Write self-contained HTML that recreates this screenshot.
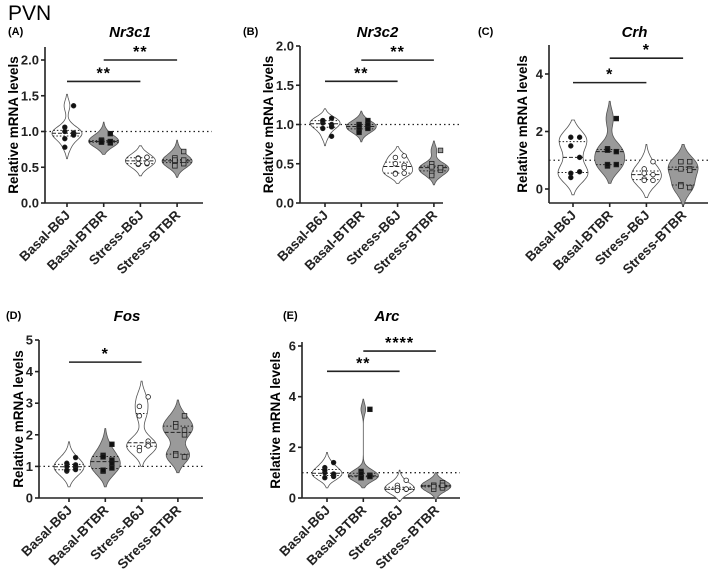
<!DOCTYPE html>
<html><head><meta charset="utf-8"><style>
body{margin:0;background:#fff;width:709px;height:573px;overflow:hidden}
svg{font-family:"Liberation Sans",Arial,sans-serif}
</style></head><body>
<svg id="fig" width="709" height="573" viewBox="0 0 709 573">
<text x="8" y="20" font-size="21">PVN</text>
</svg>
<script>
const groups = ["Basal-B6J","Basal-BTBR","Stress-B6J","Stress-BTBR"];
const nr3c1 = [[1.36,1.06,1.0,0.97,0.98,0.9,0.78,0.95],[0.97,0.88,0.86,0.85,0.84,0.87,0.85,0.86],[0.64,0.63,0.62,0.64,0.55,0.54,0.55,0.56],[0.72,0.63,0.58,0.57,0.55,0.6,0.52,0.6]];
const nr3c2 = [[1.08,1.05,1.02,1.0,0.97,0.95,1.05,0.85],[1.05,1.0,0.98,0.97,0.95,0.93,0.9,1.0],[0.6,0.58,0.5,0.48,0.45,0.38,0.37,0.38],[0.67,0.5,0.46,0.45,0.42,0.38,0.35,0.45]];
const crh = [[1.8,1.8,1.5,1.1,0.6,0.55,0.4],[2.45,1.4,1.35,1.3,0.85,0.8,0.85],[0.95,0.7,0.55,0.5,0.3,0.35,0.3],[0.95,0.95,0.7,0.7,0.65,0.15,0.1,0.05]];
const fos = [[1.28,1.1,1.0,0.98,0.9,0.85,0.88,1.05],[1.7,1.35,1.3,1.2,0.95,0.85,0.88,1.1],[3.2,2.9,2.6,1.8,1.7,1.6,1.5,1.65],[2.6,2.35,2.25,2.15,2.0,1.4,1.35,1.3]];
const arc = [[1.4,1.2,1.0,0.9,0.85,0.8,1.1,0.95],[3.5,1.05,0.95,0.9,0.85,0.8,0.8,0.85],[0.7,0.5,0.4,0.35,0.35,0.3,0.3,0.35],[0.6,0.5,0.5,0.45,0.4,0.35,0.45,0.5]];
const ticksA = ["0.0","0.5","1.0","1.5","2.0"];
const ticksB = ["0.0","0.5","1.0","1.5","2.0"];
const ticksC = ["0","2","4"];
const ticksD = ["0","1","2","3","4","5"];
const ticksE = ["0","2","4","6"];
const sigA = [[0,2,1.7,"**"],[1,3,2.0,"**"]];
const sigB = [[0,2,1.55,"**"],[1,3,1.82,"**"]];
const sigC = [[0,2,3.7,"*"],[1,3,4.55,"*"]];
const sigD = [[0,2,4.3,"*"]];
const sigE = [[0,2,5.0,"**"],[1,3,5.8,"****"]];

const NS="http://www.w3.org/2000/svg";
const svg=document.getElementById('fig');
function mk(tag,attrs,parent){const e=document.createElementNS(NS,tag);for(const k in attrs)e.setAttribute(k,attrs[k]);(parent||svg).appendChild(e);return e;}

const panels=[
 {id:"a",letter:"(A)",gene:"Nr3c1",data:nr3c1,ticks:ticksA,sig:sigA,ax:45,x0:67,dx:36.7,y0v:0,y0:203,y1v:2,y1:60,top:47,bottom:203,right:203,dotEnd:212,ylab:13,lx:8,ly:35,bw:0.08},
 {id:"b",letter:"(B)",gene:"Nr3c2",data:nr3c2,ticks:ticksB,sig:sigB,ax:300,x0:325,dx:36.3,y0v:0,y0:203,y1v:2,y1:46,top:46,bottom:203,right:443,dotEnd:462,ylab:268,lx:243,ly:35,bw:0.06},
 {id:"c",letter:"(C)",gene:"Crh",data:crh,ticks:ticksC,sig:sigC,ax:549,x0:573,dx:36.7,y0v:0,y0:189,y1v:4,y1:74,top:45,bottom:203,right:708,dotEnd:708,ylab:522,lx:478,ly:35,bw:0.3},
 {id:"d",letter:"(D)",gene:"Fos",data:fos,ticks:ticksD,sig:sigD,ax:39,x0:69,dx:36.3,y0v:0,y0:498,y1v:5,y1:340,top:340,bottom:498,right:203,dotEnd:203,ylab:18,lx:6,ly:319,bw:0.25},
 {id:"e",letter:"(E)",gene:"Arc",data:arc,ticks:ticksE,sig:sigE,ax:302,x0:327,dx:36.3,y0v:0,y0:498,y1v:6,y1:346,top:342,bottom:498,right:460,dotEnd:460,ylab:275,lx:283,ly:319,bw:0.2}
];
const fills=["#fff","#9a9a9a","#fff","#9a9a9a"];
const ptFill=["#111","#111","#fff","#9a9a9a"];
const ptShape=["c","s","c","s"];

function quant(a,q){const s=[...a].sort((x,y)=>x-y);const p=(s.length-1)*q;const i=Math.floor(p);return s[i]+(s[Math.min(i+1,s.length-1)]-s[i])*(p-i);}

panels.forEach(P=>{
 const g=mk('g',{});
 
 
 const Y=v=>P.y0+(v-P.y0v)*(P.y1-P.y0)/(P.y1v-P.y0v);
 const X=i=>P.x0+i*P.dx;
 const lt=mk('text',{x:P.lx,y:P.ly,'font-size':11,'font-weight':'bold'},g);lt.textContent=P.letter;
 
 const tt=mk('text',{x:(P.ax+P.right)/2+6,y:P.ly+2,'font-size':15,'font-weight':'bold','font-style':'italic','text-anchor':'middle'},g);tt.textContent=P.gene;
 
 const yl=mk('text',{x:0,y:0,'font-size':13.5,'font-weight':'bold','text-anchor':'middle',transform:`translate(${P.ylab+5},${(P.top+P.bottom)/2}) rotate(-90)`},g);yl.textContent="Relative mRNA levels";
 
 const ya=mk('line',{x1:P.ax,y1:P.top,x2:P.ax,y2:P.bottom,stroke:'#222','stroke-width':1.6},g);
 
 const xa=mk('line',{x1:P.ax,y1:P.bottom,x2:P.right,y2:P.bottom,stroke:'#222','stroke-width':1.6},g);
 
 P.ticks.forEach(t=>{const y=Y(parseFloat(t));
  mk('line',{x1:P.ax-4,y1:y,x2:P.ax,y2:y,stroke:'#222','stroke-width':1.6},g);
  const tx=mk('text',{x:P.ax-6,y:y+4.5,'font-size':13,'font-weight':'bold','text-anchor':'end',fill:'#222'},g);tx.textContent=t;
  });
 const rl=mk('line',{x1:P.ax,y1:Y(1),x2:P.dotEnd,y2:Y(1),stroke:'#222','stroke-width':1.3,'stroke-dasharray':'1.5,3'},g);
 
 groups.forEach((gn,i)=>{
  const x=X(i);
  mk('line',{x1:x,y1:P.bottom,x2:x,y2:P.bottom+4,stroke:'#222','stroke-width':1.6},g);
  const tl=mk('text',{x:0,y:0,'font-size':13.5,'font-weight':'bold','text-anchor':'end',fill:'#222',transform:`translate(${x+4},${P.bottom+13}) rotate(-45)`},g);tl.textContent=gn;
  
  const d=P.data[i];const mn=Math.min(...d),mx=Math.max(...d);const bw=P.bw;
  const lo=mn-2*bw,hi=mx+2*bw;const N=40;const pts=[];let dmax=0;
  for(let k=0;k<=N;k++){const v=lo+(hi-lo)*k/N;let s=0;d.forEach(p=>{s+=Math.exp(-0.5*((v-p)/bw)**2)});pts.push([v,s]);dmax=Math.max(dmax,s);}
  const W=15;let path='';
  pts.forEach((p,k)=>{path+=(k?'L':'M')+(x+p[1]/dmax*W).toFixed(1)+','+Y(p[0]).toFixed(1);});
  for(let k=pts.length-1;k>=0;k--){const p=pts[k];path+='L'+(x-p[1]/dmax*W).toFixed(1)+','+Y(p[0]).toFixed(1);}
  path+='Z';
  const vp=mk('path',{d:path,fill:fills[i],stroke:'#555','stroke-width':0.8},g);
  
  const wAt=v=>{let s=0;d.forEach(p=>{s+=Math.exp(-0.5*((v-p)/bw)**2)});return s/dmax*W;};
  [[0.5,'4,2'],[0.25,'1.5,2'],[0.75,'1.5,2']].forEach(([q,da])=>{const v=quant(d,q);const w=wAt(v);
   mk('line',{x1:x-w,y1:Y(v),x2:x+w,y2:Y(v),stroke:'#222','stroke-width':1,'stroke-dasharray':da},g);});
  d.forEach((v,j)=>{const px=x+((j%4)-1.5)*5.5*(j%2?1:-1)*0.8;const py=Y(v);let e;
   if(ptShape[i]==='c')e=mk('circle',{cx:px,cy:py,r:2.3,fill:ptFill[i],stroke:'#222','stroke-width':0.8},g);
   else e=mk('rect',{x:px-2.3,y:py-2.3,width:4.6,height:4.6,fill:ptFill[i],stroke:'#222','stroke-width':0.8},g);
   });
 });
 P.sig.forEach(s=>{const y=Y(s[2]);
  const b=mk('line',{x1:X(s[0]),y1:y,x2:X(s[1]),y2:y,stroke:'#222','stroke-width':1.6},g);
  
  const st=mk('text',{x:(X(s[0])+X(s[1]))/2,y:y-3,'font-size':16,'font-weight':'bold','text-anchor':'middle','letter-spacing':'1'},g);st.textContent=s[3];
  });
});
</script>
</body></html>
